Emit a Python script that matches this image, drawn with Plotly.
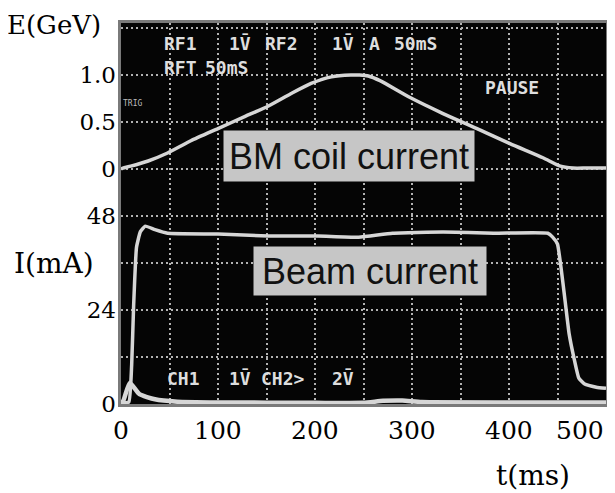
import plotly.graph_objects as go

# ---- data ----
t_coil = [0, 2, 10, 28, 48, 72, 100, 128, 152, 175, 196, 217, 237, 246, 255,
          267, 298, 332, 367, 401, 435, 453, 466, 480, 500]
E_coil = [0.0, 0.01, 0.03, 0.085, 0.17, 0.30, 0.43, 0.56, 0.67, 0.80, 0.91,
          0.98, 1.0, 1.0, 0.99, 0.94, 0.76, 0.59, 0.43, 0.27, 0.12, 0.03,
          0.01, 0.01, 0.01]

t_beam = [0, 8, 11, 13, 16, 20, 25, 35, 48, 100, 152, 203, 245, 280, 332,
          384, 440, 445, 450, 462, 467, 472, 478, 490, 500]
I_beam = [0.3, 0.5, 10, 25, 40, 44, 45.4, 44.5, 43.6, 43.4, 42.9, 42.9, 42.6,
          43.6, 43.9, 43.6, 43.6, 42.6, 40.8, 17.9, 11.7, 6.6, 5.1, 4.3, 4.0]

t_base = [0, 2, 9, 19, 35, 58, 100, 200, 250, 270, 290, 310, 400, 500]
I_base = [0.5, 0.6, 5.4, 2.5, 1.2, 0.6, 0.4, 0.3, 0.3, 0.8, 0.9, 0.5, 0.4, 0.4]

x_ticks = [0, 100, 200, 300, 400, 500]
x_ticktext = ["0", "100", "200", "300", "400", "500"]
E_ticks = [0, 0.5, 1.0]
E_ticktext = ["0", "0.5", "1.0"]
I_ticks = [0, 24, 48]
I_ticktext = ["0", "24", "48"]

scope_texts = ["RF1", "1V̄", "RF2", "1V̄", "A", "50mS", "RFT", "50mS", "PAUSE",
               "CH1", "1V̄", "CH2>", "2V̄"]
scope_trig = "TRIG"
label_coil = "BM coil current"
label_beam = "Beam current"

# the page body adds an 8px margin, so the figure is drawn 8px in from the window corner
OFF = 8
W, H = 615 - OFF, 493 - OFF
PL, PR, PT, PB = 121, 606, 23, 404   # screen edges in window pixels
ML, MT = PL - OFF, PT - OFF
MR, MB = W - (PR - OFF), H - (PB - OFF)
PW, PH = PR - PL, PB - PT


def px(x):
    return (x - PL) / PW


def py(y):
    return (PB - y) / PH


trace_col = "#d6d6d6"
grid_col = "#b2b2b2"
grid_dash = "2px,3px"
serif = "DejaVu Serif"
mono = "DejaVu Sans Mono"

fig = go.Figure()
fig.add_trace(go.Scatter(x=t_coil, y=E_coil, mode="lines", yaxis="y",
                         line=dict(color=trace_col, width=3.5, shape="spline", smoothing=0.6),
                         name="BM coil current", showlegend=False))
fig.add_trace(go.Scatter(x=t_beam, y=I_beam, mode="lines", yaxis="y2",
                         line=dict(color=trace_col, width=3.5, shape="spline", smoothing=0.4),
                         name="Beam current", showlegend=False))
fig.add_trace(go.Scatter(x=t_base, y=I_base, mode="lines", yaxis="y2",
                         line=dict(color=trace_col, width=4.5, shape="spline", smoothing=0.5),
                         name="CH1", showlegend=False))

annotations = []
# x tick labels
for v, s in zip(x_ticks, x_ticktext):
    annotations.append(dict(x=v, y=py(430), xref="x", yref="paper", text=s,
                            showarrow=False, xanchor="right" if v == 500 else "center",
                            yanchor="middle", font=dict(family=serif, size=25, color="black")))
# axis titles
annotations += [
    dict(x=px(5), y=py(25), xref="paper", yref="paper", text="E(GeV)", showarrow=False,
         xanchor="left", yanchor="middle", font=dict(family=serif, size=26, color="black")),
    dict(x=px(12), y=py(263), xref="paper", yref="paper", text="I(mA)", showarrow=False,
         xanchor="left", yanchor="middle", font=dict(family=serif, size=28, color="black")),
    dict(x=px(494), y=py(475), xref="paper", yref="paper", text="t(ms)", showarrow=False,
         xanchor="left", yanchor="middle", font=dict(family=serif, size=28, color="black")),
]
# scope screen texts (window-pixel anchor positions)
scope_pos = [(165, 43), (230, 43), (266, 43), (333, 43), (370, 43), (395, 43),
             (165, 67), (206, 67), (486, 88),
             (168, 378), (230, 378), (262, 378), (333, 378)]
scope_font = dict(family=mono, size=18, color="#dedede", weight="bold")
for s, (xx, yy) in zip(scope_texts, scope_pos):
    annotations.append(dict(x=px(xx - 3), y=py(yy), xref="paper", yref="paper", text=s,
                            showarrow=False, xanchor="left", yanchor="middle",
                            font=scope_font))
annotations.append(dict(x=px(121), y=py(104), xref="paper", yref="paper", text=scope_trig,
                        showarrow=False, xanchor="left", yanchor="middle",
                        font=dict(family=mono, size=8, color="#bbbbbb")))
# labelled boxes
annotations += [
    dict(x=px(349), y=py(156), xref="paper", yref="paper", text=label_coil, showarrow=False,
         xanchor="center", yanchor="middle", width=246, height=46, bgcolor="#c6c6c6",
         borderpad=2, font=dict(family="Liberation Sans", size=36, color="#111111")),
    dict(x=px(370), y=py(271), xref="paper", yref="paper", text=label_beam, showarrow=False,
         xanchor="center", yanchor="middle", width=228, height=44, bgcolor="#c6c6c6",
         borderpad=2, font=dict(family="Liberation Sans", size=36, color="#111111")),
]

E_lo = -2.5
E_hi = E_lo + PH / 94.0
I_hi = (E_hi - E_lo) * 24.0

fig.update_layout(
    width=W, height=H,
    margin=dict(l=ML, r=MR, t=MT, b=MB, autoexpand=False),
    paper_bgcolor="white",
    plot_bgcolor="#050505",
    showlegend=False,
    xaxis=dict(range=[0, 500], tick0=0, dtick=50, showticklabels=False, ticks="",
               showgrid=True, gridcolor=grid_col, griddash=grid_dash, gridwidth=1.5,
               zeroline=False, showline=True, linecolor="#7a7a7a", linewidth=3, mirror=True,
               layer="below traces"),
    yaxis=dict(range=[E_lo, E_hi], tick0=-2.5, dtick=0.5, showticklabels=False,
               showgrid=True, gridcolor=grid_col, griddash=grid_dash, gridwidth=1.5,
               zeroline=False, ticks="",
               showline=True, linecolor="#7a7a7a", linewidth=3, mirror=True),
    yaxis2=dict(range=[0, I_hi], tickvals=I_ticks, ticktext=I_ticktext,
                overlaying="y", side="left", anchor="x", showgrid=False, zeroline=False,
                ticks="", ticklabelstandoff=4,
                tickfont=dict(family=serif, size=23, color="black")),
    yaxis3=dict(range=[E_lo, E_hi], tickvals=E_ticks, ticktext=E_ticktext,
                overlaying="y", side="left", anchor="x", showgrid=False, zeroline=False,
                ticks="", ticklabelstandoff=4,
                tickfont=dict(family=serif, size=23, color="black")),
    annotations=annotations,
)
# an invisible trace so the E tick-label axis is drawn
fig.add_trace(go.Scatter(x=[t_coil[0]], y=[E_coil[0]], yaxis="y3", mode="markers",
                         marker=dict(opacity=0), hoverinfo="skip", showlegend=False))

fig.write_html("out.html")
